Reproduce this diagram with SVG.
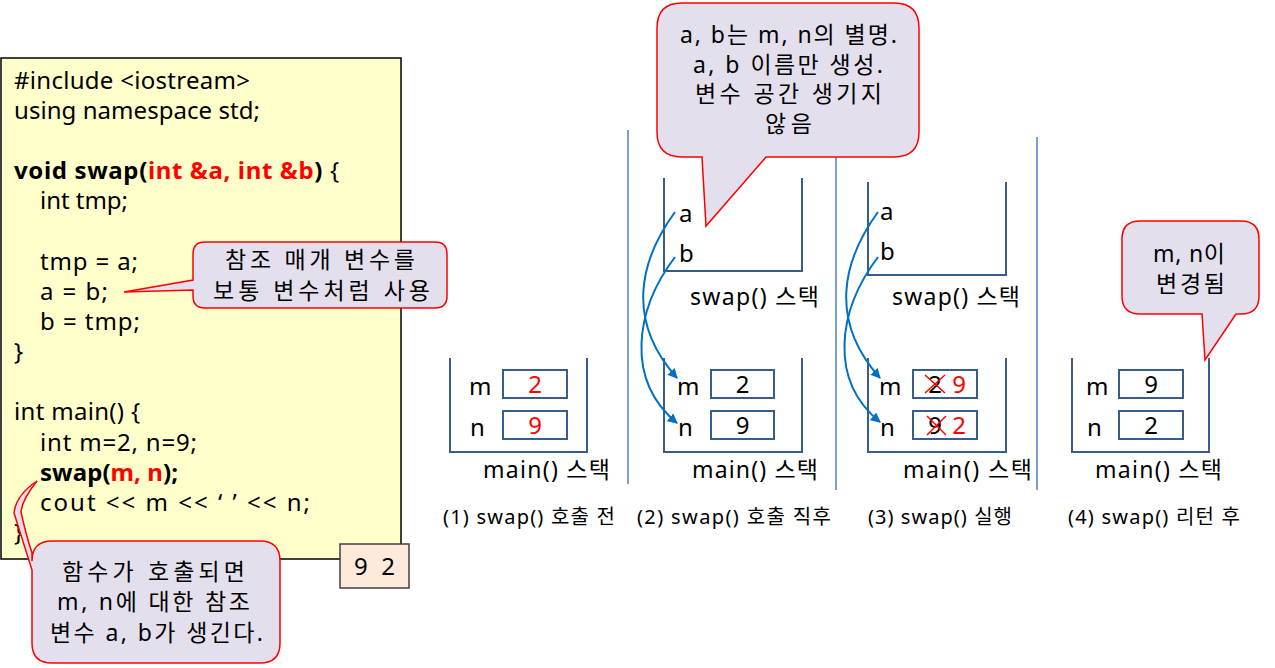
<svg xmlns="http://www.w3.org/2000/svg" width="1275" height="668" viewBox="0 0 1275 668">
<style>
text{font-family:"Noto Sans","Noto Sans CJK KR",sans-serif;fill:#000}
.code{font-size:24px}
.b{font-weight:bold}
.r{fill:#FF0000}
.call{fill:#E4DFEC;stroke:#FF0000;stroke-width:1.5}
.frame{fill:none;stroke:#385D8A;stroke-width:2}
.box{fill:#fff;stroke:#385D8A;stroke-width:2}
.sep{stroke:#4F81BD;stroke-width:1.5}
.lbl{font-size:24px}
.stk{font-size:23px}
.ct{font-size:23px}
.cap{font-size:20px}
.val{font-size:24px;text-anchor:middle}
.arr{fill:none;stroke:#0070C0;stroke-width:2;marker-end:url(#ah)}
.x{stroke:#FF0000;stroke-width:1.5}
</style>
<defs>
<marker id="ah" viewBox="0 0 10 10" refX="9" refY="5" markerWidth="5" markerHeight="5" orient="auto" markerUnits="strokeWidth">
<path d="M0,0 L10,5 L0,10 z" fill="#0070C0"/>
</marker>
</defs>

<g id="code">
<rect x="1" y="58" width="400" height="501" fill="#FFFFCC" stroke="#000" stroke-width="1.5"/>
<text class="code" x="14" y="89" textLength="236">#include &lt;iostream&gt;</text>
<text class="code" x="14" y="119" textLength="246">using namespace std;</text>
<text class="code" x="14" y="179" textLength="325"><tspan class="b">void swap(</tspan><tspan class="b r">int &amp;a, int &amp;b</tspan><tspan class="b">)</tspan> {</text>
<text class="code" x="40" y="209" textLength="88">int tmp;</text>
<text class="code" x="40" y="270" textLength="98">tmp = a;</text>
<text class="code" x="40" y="300" textLength="68">a = b;</text>
<text class="code" x="40" y="330" textLength="100">b = tmp;</text>
<text class="code" x="14" y="360">}</text>
<text class="code" x="14" y="420" textLength="126">int main() {</text>
<text class="code" x="40" y="451" textLength="157">int m=2, n=9;</text>
<text class="code" x="40" y="481" textLength="138"><tspan class="b">swap(</tspan><tspan class="b r">m, n</tspan><tspan class="b">);</tspan></text>
<text class="code" x="40" y="511" textLength="270">cout &lt;&lt; m &lt;&lt; ‘ ’ &lt;&lt; n;</text>
<text class="code" x="14" y="541">}</text>
</g>

<g id="output">
<rect x="340" y="544" width="69" height="44" fill="#FDEADA" stroke="#404040" stroke-width="1.5"/>
<text class="code" x="354" y="575" textLength="41">9 2</text>
</g>

<g id="callout-ref">
<path class="call" d="M205,242 H435 Q447,242 447,254 V296 Q447,308 435,308 H205 Q193,308 193,296 V290 L124,292 L193,280 V254 Q193,242 205,242 Z"/>
<text class="ct" x="225" y="268" textLength="190">참조 매개 변수를</text>
<text class="ct" x="213" y="299" textLength="217">보통 변수처럼 사용</text>
</g>

<g id="callout-call">
<path class="call" d="M52,541 H260 Q280,541 280,561 V643 Q280,663 260,663 H52 Q32,663 32,643 V570 Q24,545 14,513 Q16,495 37,481 Q22,500 21,512 Q26,535 32,553 V561 Q32,541 52,541 Z"/>
<text class="ct" x="62" y="580" textLength="183">함수가 호출되면</text>
<text class="ct" x="57" y="610" textLength="193">m, n에 대한 참조</text>
<text class="ct" x="50" y="641" textLength="213">변수 a, b가 생긴다.</text>
</g>

<g id="separators">
<line class="sep" x1="628" y1="130" x2="628" y2="484"/>
<line class="sep" x1="836" y1="130" x2="836" y2="490"/>
<line class="sep" x1="1037" y1="137" x2="1037" y2="490"/>
</g>

<g id="stage1">
<path class="frame" d="M450,358 V452 H587 V358"/>
<text class="lbl" x="469" y="395">m</text>
<text class="lbl" x="470" y="436">n</text>
<rect class="box" x="503" y="370" width="64" height="28"/>
<rect class="box" x="503" y="411" width="64" height="28"/>
<text class="val r" x="535" y="393">2</text>
<text class="val r" x="535" y="434">9</text>
<text class="stk" x="483" y="478" textLength="127">main() 스택</text>
<text class="cap" x="443" y="524" textLength="172">(1) swap() 호출 전</text>
</g>

<g id="stage2">
<path class="frame" d="M664,178 V271 H802 V178"/>
<text class="lbl" x="679" y="222">a</text>
<text class="lbl" x="679" y="262">b</text>
<text class="stk" x="690" y="305" textLength="129">swap() 스택</text>
<path class="frame" d="M664,358 V452 H802 V358"/>
<text class="lbl" x="677" y="395">m</text>
<text class="lbl" x="678" y="436">n</text>
<rect class="box" x="711" y="370" width="63" height="28"/>
<rect class="box" x="711" y="411" width="63" height="28"/>
<text class="val" x="742.5" y="393">2</text>
<text class="val" x="742.5" y="434">9</text>
<text class="stk" x="692" y="478" textLength="126">main() 스택</text>
<text class="cap" x="637" y="524" textLength="194">(2) swap() 호출 직후</text>
</g>

<g id="stage3">
<path class="frame" d="M868,182 V275 H1006 V182"/>
<text class="lbl" x="880" y="220">a</text>
<text class="lbl" x="880" y="260">b</text>
<text class="stk" x="892" y="305" textLength="128">swap() 스택</text>
<path class="frame" d="M868,358 V452 H1006 V358"/>
<text class="lbl" x="879" y="395">m</text>
<text class="lbl" x="880" y="436">n</text>
<rect class="box" x="913" y="370" width="64" height="28"/>
<rect class="box" x="913" y="411" width="64" height="28"/>
<text class="val" x="935" y="393">2</text>
<text class="val" x="935" y="434">9</text>
<line class="x" x1="925" y1="375" x2="945" y2="393"/>
<line class="x" x1="925" y1="393" x2="945" y2="375"/>
<line class="x" x1="927" y1="416" x2="946" y2="435"/>
<line class="x" x1="927" y1="435" x2="946" y2="416"/>
<text class="val r" x="959" y="393">9</text>
<text class="val r" x="959" y="434">2</text>
<text class="stk" x="903" y="478" textLength="129">main() 스택</text>
<text class="cap" x="868" y="524" textLength="144">(3) swap() 실행</text>
</g>

<g id="stage4">
<path class="frame" d="M1072,358 V452 H1209 V358"/>
<text class="lbl" x="1086" y="395">m</text>
<text class="lbl" x="1087" y="436">n</text>
<rect class="box" x="1119" y="370" width="64" height="28"/>
<rect class="box" x="1119" y="411" width="64" height="28"/>
<text class="val" x="1151" y="393">9</text>
<text class="val" x="1151" y="434">2</text>
<text class="stk" x="1095" y="478" textLength="127">main() 스택</text>
<text class="cap" x="1068" y="524" textLength="172">(4) swap() 리턴 후</text>
</g>

<g id="connectors">
<path class="arr" d="M675,212 C640,260 625,320 677,378"/>
<path class="arr" d="M675,257 C635,310 625,380 677,423"/>
<path class="arr" d="M878,212 C843,260 828,320 880,378"/>
<path class="arr" d="M878,257 C838,310 828,380 880,422"/>
</g>

<g id="callout-alias">
<path class="call" d="M682,3 H894 Q919,3 919,28 V132 Q919,157 894,157 H766 L706,226 L702,157 H682 Q657,157 657,132 V28 Q657,3 682,3 Z"/>
<text class="ct" x="680" y="43" textLength="217">a, b는 m, n의 별명.</text>
<text class="ct" x="693" y="73" textLength="190">a, b 이름만 생성.</text>
<text class="ct" x="695" y="102" textLength="187">변수 공간 생기지</text>
<text class="ct" x="765" y="132" textLength="47">않음</text>
</g>

<g id="callout-changed">
<path class="call" d="M1140,221 H1241 Q1259,221 1259,239 V296 Q1259,314 1241,314 H1236 L1205,360 L1202,314 H1140 Q1122,314 1122,296 V239 Q1122,221 1140,221 Z"/>
<text class="ct" x="1153" y="262" textLength="72">m, n이</text>
<text class="ct" x="1156" y="292" textLength="69">변경됨</text>
</g>
</svg>
